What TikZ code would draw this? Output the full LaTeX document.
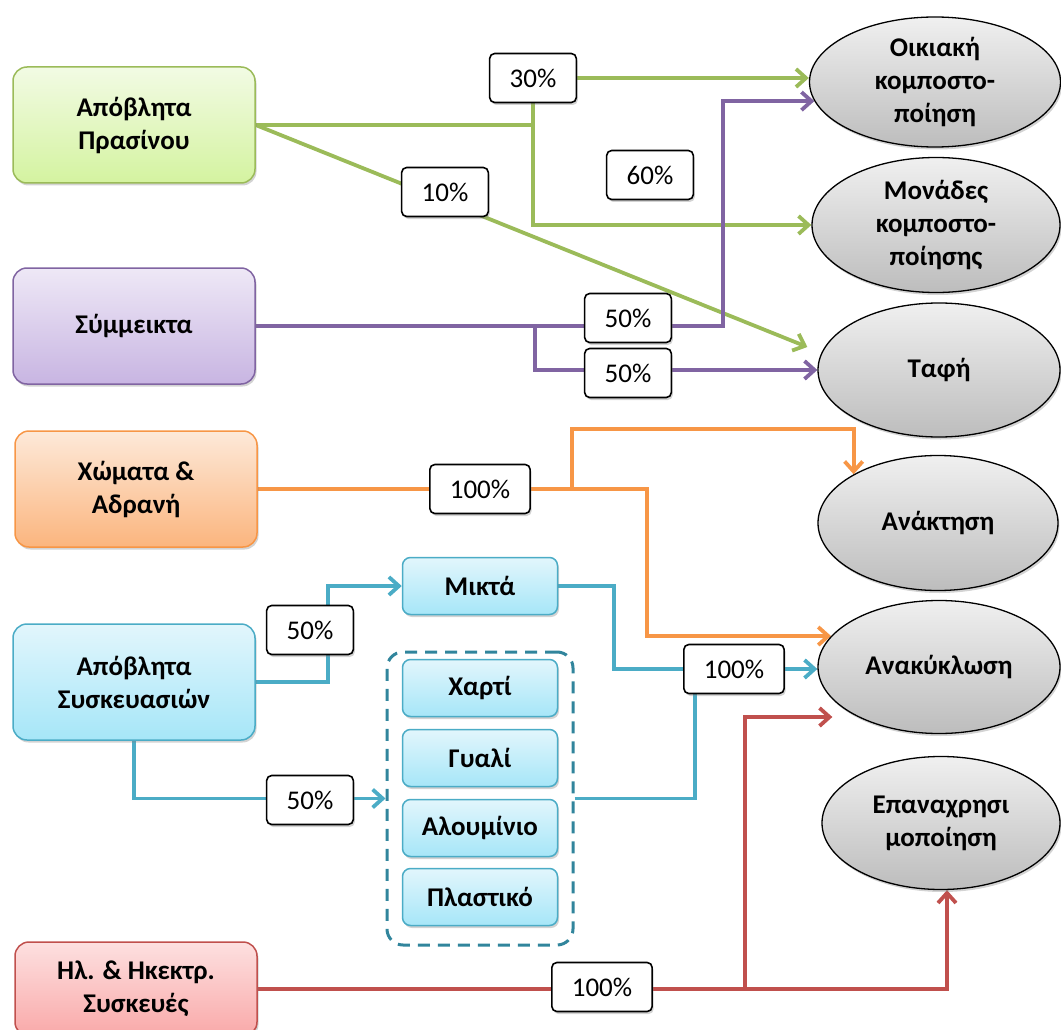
\documentclass[tikz,border=0pt]{standalone}
\usepackage{fontspec}
\setmainfont{Carlito}
\usetikzlibrary{
	arrows.meta,
	backgrounds,
	calc,
	shadows,
	shapes.geometric,
}
\definecolor{grline}{HTML}{9BBB59}
\definecolor{grtop}{HTML}{F2FBE4}
\definecolor{grbot}{HTML}{D4F3A0}
\definecolor{puline}{HTML}{8064A2}
\definecolor{putop}{HTML}{EEE8F6}
\definecolor{pubot}{HTML}{C8B5E2}
\definecolor{orline}{HTML}{F79646}
\definecolor{ortop}{HTML}{FDE9D9}
\definecolor{orbot}{HTML}{FBB57E}
\definecolor{blline}{HTML}{4BACC6}
\definecolor{bltop}{HTML}{E2F6FC}
\definecolor{blbot}{HTML}{A6E6F8}
\definecolor{reline}{HTML}{C0504D}
\definecolor{retop}{HTML}{FDE0E0}
\definecolor{rebot}{HTML}{F9A9A9}
\definecolor{dashblue}{HTML}{31859C}
\tikzset{
	soft shadow/.style={
		drop shadow={shadow xshift=1.5pt, shadow yshift=-2.5pt, opacity=0.35},
	},
	source box/.style={
		draw,
		rounded corners=14pt,
		line width=1.5pt,
		minimum width=242pt,
		minimum height=116pt,
		align=center,
		font=\fontsize{27}{33}\selectfont\bfseries,
		soft shadow,
	},
	sub box/.style={
		source box,
		draw=blline,
		top color=bltop,
		bottom color=blbot,
		rounded corners=8pt,
		minimum width=155pt,
		minimum height=57pt,
	},
	sink/.style={
		ellipse,
		draw=black,
		line width=1.3pt,
		top color=gray!12,
		bottom color=gray!52,
		minimum width=242pt,
		minimum height=134pt,
		inner sep=0pt,
		align=center,
		font=\fontsize{27}{33}\selectfont\bfseries,
		soft shadow,
	},
	pct/.style={
		draw=black,
		fill=white,
		rounded corners=5pt,
		line width=1.6pt,
		minimum height=49pt,
		minimum width=84pt,
		inner xsep=20pt,
		font=\fontsize{27}{33}\selectfont,
		soft shadow,
	},
	flow line/.style={line width=3.8pt},
	flow/.style={flow line, -{Straight Barb[length=10pt,width=18pt]}},
}

\begin{document}
\begin{tikzpicture}[x=1pt,y=-1pt]
\useasboundingbox (0,0) rectangle (1061,1030);

% sources
\node[source box, draw=grline, top color=grtop, bottom color=grbot](prasino) at(134,125) {Απόβλητα\\Πρασίνου};
\node[source box, draw=puline, top color=putop, bottom color=pubot](symmeikta) at(134,326) {Σύμμεικτα};
\node[source box, draw=orline, top color=ortop, bottom color=orbot](choma) at(136,489) {Χώματα \&\\Αδρανή};
\node[source box, draw=blline, top color=bltop, bottom color=blbot](syskevasies) at(134,682) {Απόβλητα\\Συσκευασιών};
\node[source box, draw=reline, top color=retop, bottom color=rebot, minimum height=94pt](ilektrika) at(136,989) {Ηλ. \& Ηκεκτρ.\\Συσκευές};

% packaging streams
\node(mikta)[sub box] at(480,586) {Μικτά};
\node(paketa)[draw=dashblue, dashed, dash pattern=on 12pt off 8pt, line width=3pt,
	rounded corners=16pt, minimum width=186pt, minimum height=293pt] at(480,798.5) {};
\foreach \y/\n/\t in {688/xarti/Χαρτί, 758/gyali/Γυαλί, 828/alouminio/Αλουμίνιο, 897/plastiko/Πλαστικό}{
	\node(\n)[sub box] at(480,\y) {\t};
}

% destinations
\node(oikiaki)[sink, minimum width=251pt, minimum height=130pt] at(935,82) {Οικιακή\\κομποστο-\\ποίηση};
\node(monades)[sink, minimum width=248pt, minimum height=135pt] at(936,225) {Μονάδες\\κομποστο-\\ποίησης};
\node(tafi)[sink] at(939,370) {Ταφή};
\node(anaktisi)[sink, minimum width=240pt, minimum height=135pt] at(938,523) {Ανάκτηση};
\node(anakyklosi)[sink, minimum height=133pt] at(939,667) {Ανακύκλωση};
\node(epanaxr)[sink, minimum width=238pt, minimum height=133pt] at(941,823) {Επαναχρησι\\μοποίηση};

% shares
\node(l30)[pct] at(533,78) {30\%};
\node(l60)[pct] at(650,175) {60\%};
\node(l10)[pct] at(445,192) {10\%};
\node(l50a)[pct] at(628,318) {50\%};
\node(l50b)[pct] at(628,373) {50\%};
\node(l100a)[pct] at(480,489) {100\%};
\node(l50c)[pct] at(310,630) {50\%};
\node(l50d)[pct] at(310,800) {50\%};
\node(l100b)[pct] at(734,669) {100\%};
\node(l100c)[pct] at(602,987) {100\%};

\coordinate(split-p) at(535,326);
\coordinate(split-o) at(572,489);
\coordinate(split-r) at(745,989);
\coordinate(tafi-g) at($(tafi.west)+(-10,-23)$);
\coordinate(anak-r) at($(anakyklosi.west)+(15,50)$);

\begin{scope}[on background layer]
\draw[flow line, grline] (prasino.east) -- (prasino.east -| l30.south);
\draw[flow, grline] (l30.south) |- (monades.west);
\draw[flow, grline] (l30.east) -- (l30.east -| oikiaki.west);
\draw[flow, grline] (prasino.east) -- (tafi-g);

\draw[flow, puline] (symmeikta.east) -- (723,326) |- (oikiaki.189);
\draw[flow, puline] (split-p) |- (tafi.west);

\draw[flow line, orline] (choma.east) -- (split-o);
\draw[flow, orline] (split-o) -- ++(0,-60) -| (anaktisi.150);
\draw[flow, orline] (split-o) -- ++(75,0) |- (anakyklosi.164);

\draw[flow, blline] (syskevasies.east) -- ++(72,0) |- (mikta.west);
\draw[flow, blline] (syskevasies.south) |- (paketa.west);
\draw[flow line, blline] (mikta.east) -- ++(56,0) |- (l100b.west);
\draw[flow line, blline] (paketa.east) -| ([xshift=12pt]l100b.south west);
\draw[flow, blline] (l100b.east) -- (l100b.east -| anakyklosi.west);

\draw[flow line, reline] (ilektrika.east) -- (split-r);
\draw[flow, reline] (split-r) |- (anak-r);
\draw[flow, reline] (split-r) -| ([xshift=6pt]epanaxr.south);
\end{scope}

\end{tikzpicture}
\end{document}
